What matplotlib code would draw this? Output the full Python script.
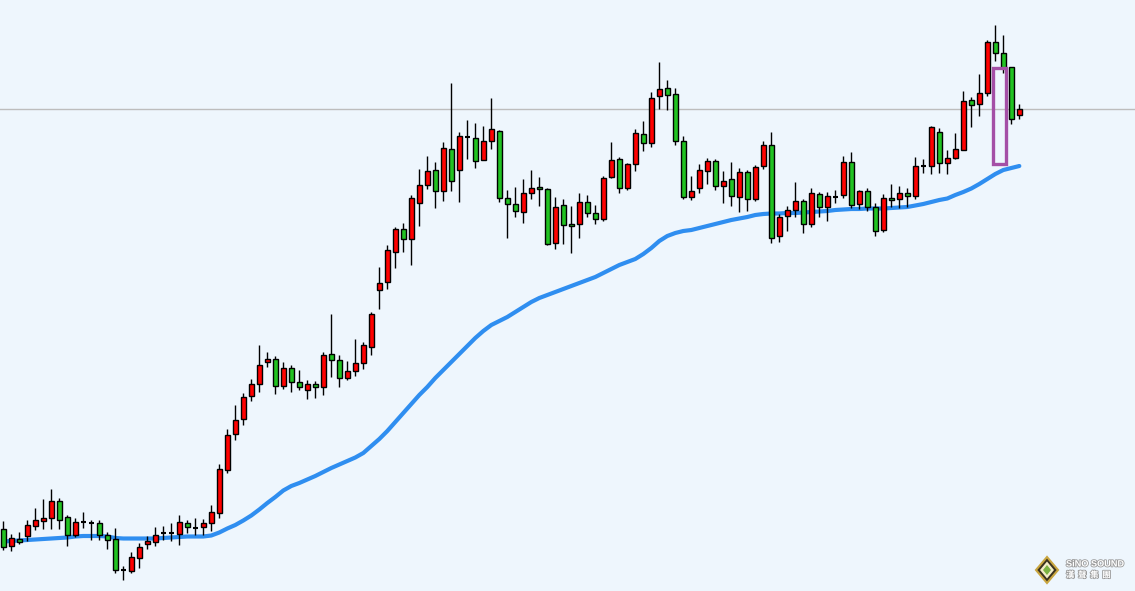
import numpy as np
import matplotlib.pyplot as plt
from matplotlib.patches import Rectangle, Polygon
import matplotlib.patheffects as pe

# Candle values, in chart units (y grows downward, like the screen).
opens = [
    529.3, 546.3, 539.3, 535.7, 525.7, 520.7, 518.3, 501.0, 517.0, 534.7,
    522.0, 522.7, 523.0, 535.3, 539.3, 569.7, 570.7, 557.7, 544.3, 542.3,
    533.3, 533.3, 534.3, 523.3, 527.7, 527.3, 523.3, 513.3, 470.3, 434.3,
    419.3, 396.3, 384.3, 362.3, 359.3, 386.3, 368.3, 382.3, 390.3, 384.3,
    387.3, 354.3, 360.3, 378.3, 371.3, 363.3, 346.7, 290.3, 282.3, 251.7,
    229.3, 239.3, 203.3, 185.3, 170.3, 191.3, 149.3, 170.3, 137.3, 138.3,
    160.3, 141.3, 131.3, 198.3, 204.3, 212.3, 193.3, 187.3, 189.3, 243.3,
    205.3, 224.3, 224.3, 202.3, 213.3, 219.3, 177.3, 159.3, 188.3, 164.3,
    134.3, 143.3, 96.3, 88.3, 94.3, 141.3, 197.3, 188.3, 171.3, 161.3,
    186.3, 179.3, 197.3, 172.3, 199.3, 166.3, 145.3, 236.3, 216.3, 210.3,
    201.3, 224.3, 194.3, 207.3, 197.0, 195.3, 162.3, 204.3, 191.3, 207.3,
    230.3, 198.3, 199.3, 193.3, 196.3, 165.7, 166.3, 132.3, 163.3, 158.3,
    150.3, 100.3, 104.3, 93.3, 42.3, 53.3, 67.3, 115.3,
]
closes = [
    546.7, 538.3, 541.7, 525.0, 520.0, 518.3, 501.0, 519.7, 534.7, 522.0,
    522.0, 522.7, 534.7, 539.7, 569.7, 569.7, 557.3, 547.3, 541.3, 535.3,
    533.3, 533.3, 522.3, 527.3, 527.7, 523.3, 512.3, 469.3, 435.3, 420.3,
    397.3, 384.3, 365.3, 359.3, 386.3, 368.3, 382.3, 387.3, 384.3, 387.3,
    355.3, 360.3, 378.3, 371.3, 363.3, 345.3, 314.3, 283.3, 250.3, 229.3,
    239.3, 198.3, 185.3, 171.3, 191.3, 148.3, 181.3, 136.3, 137.3, 161.3,
    141.3, 129.3, 198.3, 204.3, 211.3, 193.3, 188.3, 189.3, 244.3, 207.3,
    225.3, 226.3, 202.3, 213.3, 219.3, 178.3, 160.3, 188.3, 164.3, 133.3,
    143.3, 98.3, 89.3, 95.3, 141.3, 197.3, 191.3, 170.3, 161.3, 186.3,
    181.3, 196.3, 172.3, 199.3, 167.3, 145.3, 238.3, 217.3, 210.3, 201.3,
    224.3, 193.3, 207.3, 196.3, 197.0, 162.3, 205.3, 191.3, 207.3, 231.3,
    198.3, 200.3, 193.3, 196.3, 166.3, 165.7, 127.3, 163.3, 158.3, 149.3,
    101.3, 105.3, 93.3, 42.3, 53.3, 68.3, 119.3, 109.3,
]
highs = [
    521.0, 534.3, 532.3, 520.0, 508.0, 499.0, 489.0, 498.0, 515.0, 518.0,
    512.0, 520.0, 520.0, 531.7, 528.3, 566.0, 552.0, 543.3, 536.3, 527.3,
    526.0, 523.0, 515.0, 520.0, 518.0, 519.3, 505.0, 464.3, 429.0, 405.0,
    393.0, 379.0, 345.0, 352.3, 356.3, 362.3, 365.3, 370.3, 380.3, 381.3,
    352.3, 314.0, 355.3, 361.3, 339.3, 342.3, 312.3, 267.3, 245.3, 226.7,
    223.3, 195.3, 169.0, 156.0, 162.0, 142.0, 83.0, 132.0, 120.3, 123.3,
    126.3, 98.3, 130.3, 190.3, 187.3, 179.3, 170.3, 177.3, 188.3, 197.3,
    199.3, 206.3, 193.3, 195.3, 205.3, 176.3, 142.3, 157.3, 163.3, 129.3,
    121.3, 92.3, 62.0, 80.3, 88.3, 136.3, 176.3, 164.3, 158.3, 159.3,
    171.3, 162.3, 168.3, 170.3, 165.3, 141.3, 132.3, 214.3, 206.3, 182.3,
    199.3, 188.3, 192.3, 192.3, 190.3, 156.3, 152.3, 190.3, 188.3, 203.3,
    194.3, 184.3, 186.3, 188.3, 157.3, 158.7, 126.3, 128.3, 150.3, 133.3,
    91.0, 97.3, 74.3, 40.3, 25.0, 35.3, 67.3, 104.3,
]
lows = [
    550.0, 550.7, 544.3, 540.7, 530.0, 529.0, 529.0, 529.0, 545.7, 536.7,
    528.0, 540.0, 540.0, 549.0, 572.7, 579.7, 572.7, 568.0, 548.7, 545.7,
    540.0, 540.7, 544.7, 533.3, 535.0, 535.0, 530.7, 518.3, 473.3, 439.7,
    424.7, 401.3, 391.7, 367.3, 394.3, 389.3, 392.3, 390.0, 399.3, 398.3,
    395.3, 377.3, 387.3, 380.3, 375.7, 369.3, 355.0, 309.0, 289.0, 267.7,
    251.7, 264.7, 225.7, 188.7, 207.7, 200.7, 191.3, 201.7, 159.3, 167.7,
    160.3, 148.7, 201.7, 238.3, 216.5, 223.3, 199.3, 206.3, 245.3, 249.3,
    244.3, 253.3, 238.3, 217.3, 224.3, 221.3, 178.3, 193.3, 190.3, 171.3,
    150.7, 146.7, 109.3, 110.3, 145.3, 199.3, 200.3, 193.3, 184.3, 190.3,
    203.3, 206.3, 212.3, 211.3, 201.3, 169.3, 243.3, 242.3, 231.3, 217.3,
    233.3, 227.3, 217.3, 221.3, 203.3, 198.3, 208.3, 209.3, 211.3, 236.3,
    232.3, 207.3, 208.3, 207.3, 199.3, 172.7, 173.7, 172.7, 174.3, 159.3,
    150.3, 127.3, 116.3, 96.3, 61.3, 73.3, 124.3, 119.3,
]
moving_avg = [
    541.5, 541.0, 540.5, 540.0, 539.5, 539.0, 538.5, 538.0, 537.5, 536.5,
    536.0, 536.0, 536.0, 536.5, 538.0, 538.5, 538.5, 538.5, 538.5, 538.5,
    538.0, 537.5, 537.0, 536.5, 536.5, 536.5, 535.5, 532.5, 528.5, 525.0,
    520.5, 515.5, 509.5, 503.0, 497.0, 490.5, 486.0, 483.0, 479.5, 476.0,
    472.0, 468.0, 464.5, 461.0, 457.5, 453.0, 446.0, 439.0, 431.0, 422.0,
    413.0, 404.0, 395.0, 387.0, 378.0, 370.0, 362.0, 354.0, 346.0, 338.0,
    331.0, 325.0, 321.0, 317.0, 312.0, 307.0, 302.0, 298.0, 295.0, 292.0,
    289.0, 286.0, 283.0, 280.0, 277.0, 273.0, 269.0, 265.0, 262.0, 259.0,
    254.0, 248.0, 241.0, 236.0, 233.0, 231.0, 230.0, 228.0, 226.0, 224.0,
    222.0, 220.0, 218.5, 217.0, 215.0, 214.0, 213.5, 213.5, 213.0, 213.0,
    212.5, 212.0, 211.5, 211.0, 210.0, 209.5, 209.0, 209.0, 208.5, 208.5,
    208.5, 208.0, 207.5, 207.0, 205.5, 204.0, 202.0, 200.0, 198.5, 195.0,
    192.0, 188.5, 184.0, 179.0, 174.0, 170.0, 168.0, 166.0,
]
ref_level = 109.3  # thin grey horizontal price line

opens = np.array(opens)
closes = np.array(closes)
highs = np.array(highs)
lows = np.array(lows)
idx = np.arange(len(opens))

bg = "#eef6fd"
fig = plt.figure(figsize=(11.35, 5.91), dpi=100, facecolor=bg)
ax = fig.add_axes([0, 0, 1, 1])
ax.set_facecolor(bg)
ax.axis("off")

ax.axhline(ref_level, color="#bdbdbd", lw=1, zorder=1)

ax.plot(idx, moving_avg, color="#2f8ef0", lw=3.0, solid_capstyle="round", zorder=2)

# wicks
ax.vlines(idx, highs, lows, color="black", lw=1, zorder=3)

# bodies (y axis is inverted, so a smaller close means the price went up)
up = closes < opens
down = closes > opens
flat = closes == opens
w = 0.7
ax.bar(idx[up], (opens - closes)[up], bottom=closes[up], width=w,
       color="#ff0000", edgecolor="black", lw=1, zorder=4)
ax.bar(idx[down], (closes - opens)[down], bottom=opens[down], width=w,
       color="#22c322", edgecolor="black", lw=1, zorder=4)
ax.hlines(opens[flat], idx[flat] - w / 2, idx[flat] + w / 2, color="black", lw=1.5, zorder=4)

# purple highlight box next to the last candles
ax.add_patch(Rectangle((123.75, 68.3), 1.55, 96.0, fill=False,
                       edgecolor="#a44fa6", lw=2.4, zorder=5))

ax.set_xlim(-0.4125, 141.46)
ax.set_ylim(591, 0)

# logo, bottom right
lx, ly = 1047 / 1135, 1 - 570 / 591
def diamond(cx, cy, rx, ry):
    dx, dy = rx / 1135, ry / 591
    return [(cx - dx, cy), (cx, cy + dy), (cx + dx, cy), (cx, cy - dy)]
fig.patches.append(Polygon(diamond(lx, ly, 11, 13), closed=True, transform=fig.transFigure,
                           facecolor="#3b3320", edgecolor="#c9a640", lw=1.5))
fig.patches.append(Polygon(diamond(lx, ly, 7, 8.5), closed=True, transform=fig.transFigure,
                           facecolor="#f4edc8", edgecolor="none"))
fig.patches.append(Polygon(diamond(lx, ly, 4, 5), closed=True, transform=fig.transFigure,
                           facecolor="#7cb342", edgecolor="none"))

stroke = [pe.withStroke(linewidth=1.2, foreground="#9a9a9a")]
fig.text(1066 / 1135, 1 - 564 / 591, "SiNO SOUND", color="white", fontsize=6.6,
         weight="bold", va="center", ha="left", family="Liberation Sans",
         path_effects=stroke)
fig.text(1066 / 1135, 1 - 575 / 591, "漢  聲  集  團", color="white", fontsize=6,
         weight="bold", va="center", ha="left", family=["Noto Sans CJK TC", "DejaVu Sans"],
         path_effects=stroke)

plt.savefig("out.png", dpi=100, facecolor=bg)
